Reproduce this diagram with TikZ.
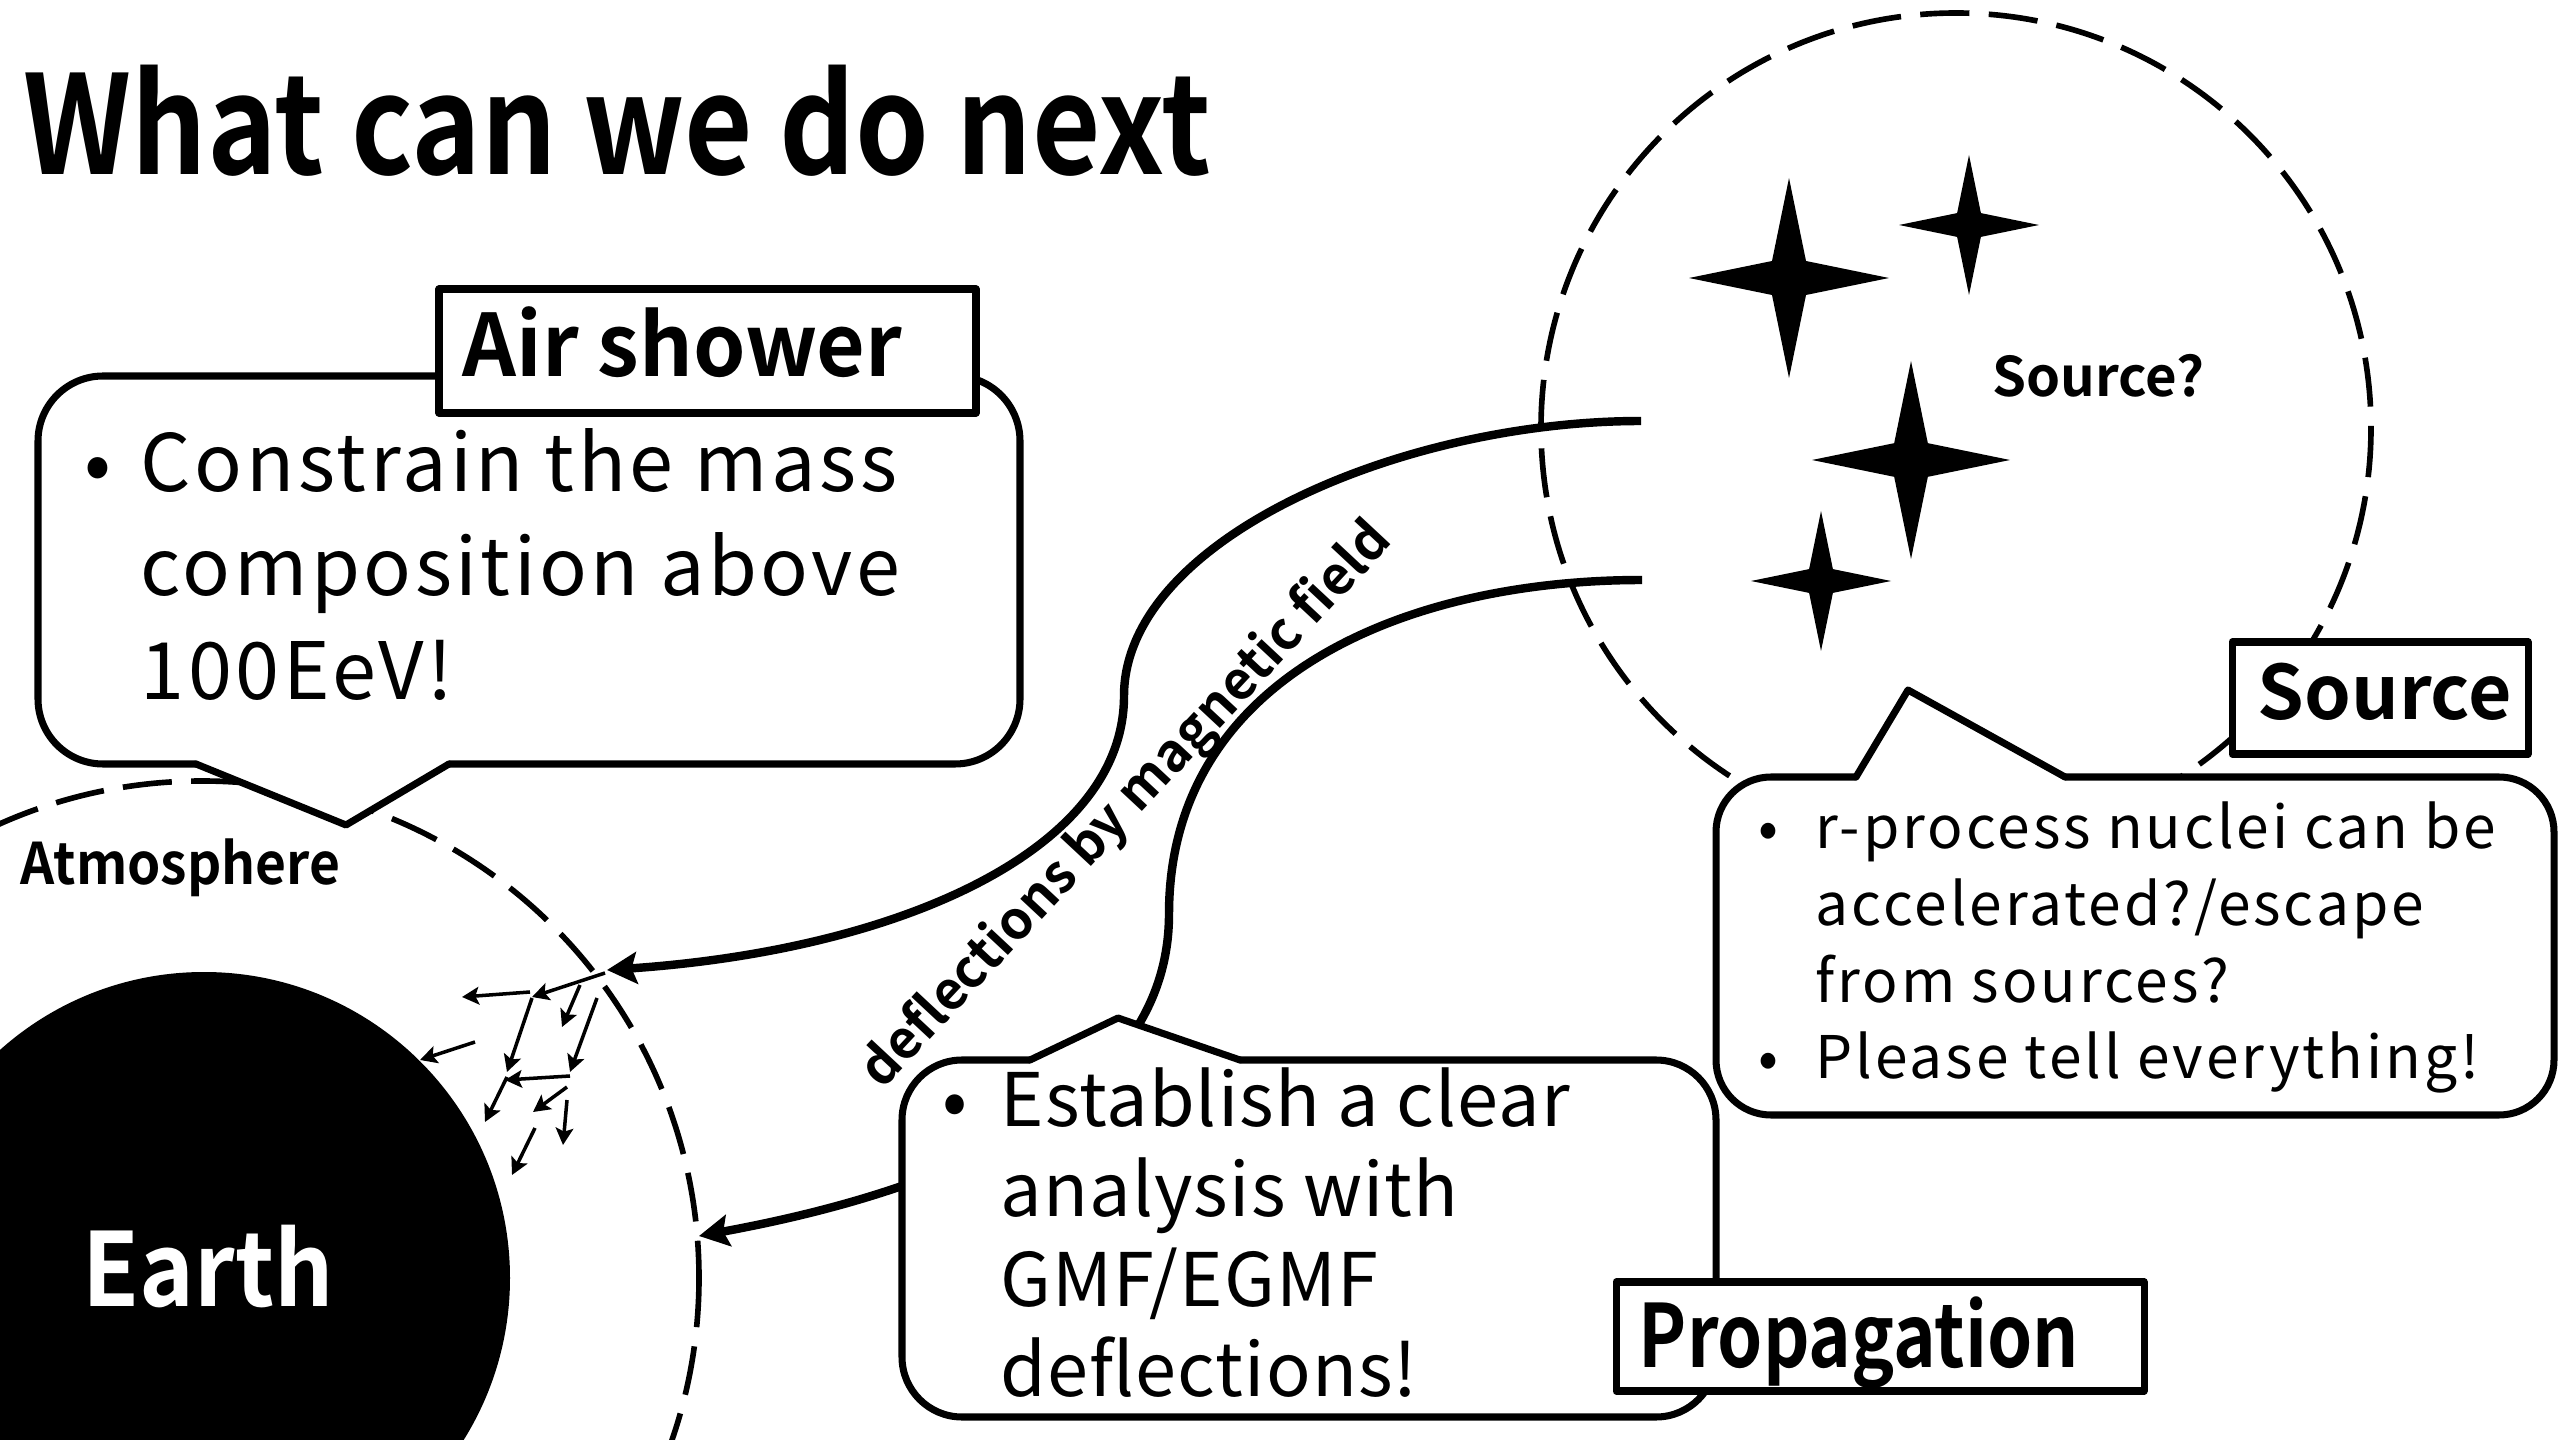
\documentclass[tikz,border=0pt]{standalone}
\usepackage{graphicx}
\usepackage{fontspec}
\setmainfont{Noto Sans CJK JP}[BoldFont={Noto Sans CJK JP Bold}]
\usetikzlibrary{arrows.meta}

\begin{document}
\begin{tikzpicture}[x=0.01cm, y=-0.01cm, line join=round,
  atmo/.style={line width=1.6pt, dash pattern=on 14pt off 5.5pt},
  bubble/.style={line width=2pt, line cap=round},
  tagbox/.style={line width=2pt, fill=white},
  flux/.style={line width=2.4pt, -{Stealth[length=8.5pt, width=9pt, inset=1.5pt]}},
  shower/.style={line width=1pt, -{Stealth[length=4.8pt, width=5pt, inset=1pt]}},
  note/.style={anchor=base west, inner sep=0pt, align=left},
]
  \useasboundingbox (0,0) rectangle (2560,1440);
  \clip (0,0) rectangle (2560,1440);

  % earth and atmosphere
  \fill (204,1278) circle (306);
  \draw[atmo] (202,1278) circle (497);

  % source region with stars
  \draw[atmo] (1956,428) circle (415);
  \foreach \x/\y/\r in {1789/278/100, 1969/225/70, 1911/460/99, 1821/581/70}
    \fill (\x,\y-\r) -- (\x+0.17*\r,\y-0.17*\r) -- (\x+\r,\y)
      -- (\x+0.17*\r,\y+0.17*\r) -- (\x,\y+\r) -- (\x-0.17*\r,\y+0.17*\r)
      -- (\x-\r,\y) -- (\x-0.17*\r,\y-0.17*\r) -- cycle;
  \node[note, font=\bfseries\fontsize{15.5}{18}\selectfont] (srcq) at (1992,397) {Source?};

  % deflected trajectories
  \coordinate (esc1) at (1641,421);
  \coordinate (esc2) at (1642,580);
  \coordinate (hit) at (607,970);
  \coordinate (limb) at (699,1236);
  \draw[flux] (esc1) .. controls (1400,421) and (1124,540) .. (1124,696)
    .. controls (1124,850) and (900,950) .. (hit);
  \draw[flux] (esc2) .. controls (1400,580) and (1169,680) .. (1169,914)
    .. controls (1169,1100) and (950,1190) .. (limb);

  % secondary particles
  \foreach \a/\b/\c/\d in {605/973/532/997, 530/992/462/997, 475/1042/420/1060,
      532/998/507/1072, 580/985/562/1027, 597/998/570/1072, 570/1076/505/1080,
      507/1077/485/1122, 567/1087/533/1112, 567/1100/563/1145, 535/1128/512/1175}
    \draw[shower] (\a,\b) -- (\c,\d);

  % air shower bubble
  \fill[white, rounded corners=0.65cm] (38,376) rectangle (1020,764);
  \fill[white] (196,764) -- (346,825) -- (449,764) -- cycle;
  \draw[bubble, rounded corners=0.65cm] (449,764) -- (1020,764) -- (1020,376)
    -- (38,376) -- (38,764) -- (196,764);
  \draw[bubble] (196,764) -- (346,825) -- (449,764);
  \draw[tagbox] (439,289) rectangle (976,413);
  \node[note, font=\bfseries\fontsize{24.5}{28}\selectfont] (airtag) at (462,377)
    {\scalebox{0.975}[1]{Air shower}};
  \node[note, font=\fontsize{22.5}{29.5}\selectfont\addfontfeature{LetterSpace=4.4}] (airtext) at (84,492)
    {\begin{tabular}[t]{@{}l@{}l@{}}
      \makebox[16pt][l]{•} & Constrain the mass\\
      & composition above\\
      & 100EeV!
    \end{tabular}};

  % propagation bubble
  \fill[white, rounded corners=0.6cm] (902,1060) rectangle (1716,1417);
  \fill[white] (1030,1060) -- (1118,1018) -- (1240,1060) -- cycle;
  \draw[bubble, rounded corners=0.6cm] (1240,1060) -- (1716,1060) -- (1716,1417)
    -- (902,1417) -- (902,1060) -- (1030,1060);
  \draw[bubble] (1030,1060) -- (1118,1018) -- (1240,1060);
  \draw[tagbox] (1616,1282) rectangle (2144,1391);
  \node[note, font=\bfseries\fontsize{24.8}{28}\selectfont] (proptag) at (1638,1367)
    {\scalebox{0.83}[1]{Propagation}};
  \node[note, font=\fontsize{21}{25.6}\selectfont\addfontfeature{LetterSpace=1.5}] (proptext) at (942,1126)
    {\begin{tabular}[t]{@{}l@{}l@{}}
      \makebox[16.5pt][l]{•} & Establish a clear\\
      & analysis with\\
      & GMF/EGMF\\
      & deflections!
    \end{tabular}};

  % source bubble
  \fill[white, rounded corners=0.55cm] (1716,777) rectangle (2554,1115);
  \fill[white] (1856,777) -- (1908,690) -- (2065,777) -- cycle;
  \draw[bubble, rounded corners=0.55cm] (2065,777) -- (2554,777) -- (2554,1115)
    -- (1716,1115) -- (1716,777) -- (1856,777);
  \draw[bubble] (1856,777) -- (1908,690) -- (2065,777);
  \draw[tagbox] (2232,642) rectangle (2528,754);
  \node[note, font=\bfseries\fontsize{21.3}{24}\selectfont] (srctag) at (2257,720) {Source};
  \node[note, font=\fontsize{16.7}{21.8}\selectfont\addfontfeature{LetterSpace=5}] (srctext) at (1758,849)
    {\begin{tabular}[t]{@{}l@{}l@{}}
      \makebox[16.2pt][l]{•} & r-process nuclei can be\\
      & accelerated?/escape\\
      & from sources?\\
      \makebox[16.2pt][l]{•} & Please tell everything!
    \end{tabular}};

  % labels
  \node[note, font=\bfseries\fontsize{39}{44}\selectfont] (title) at (23,175)
    {\scalebox{0.86}[1]{What can we do next}};
  \node[note, font=\bfseries\fontsize{16.3}{19}\selectfont] (atmolabel) at (20,884)
    {\scalebox{0.93}[1]{Atmosphere}};
  \node[note, white, font=\bfseries\fontsize{29}{33}\selectfont] (earth) at (82,1306)
    {\scalebox{0.91}[1]{Earth}};
  \node[font=\bfseries\fontsize{15}{18}\selectfont, rotate=47] (defl) at (1127,806)
    {deflections by magnetic field};
\end{tikzpicture}
\end{document}
